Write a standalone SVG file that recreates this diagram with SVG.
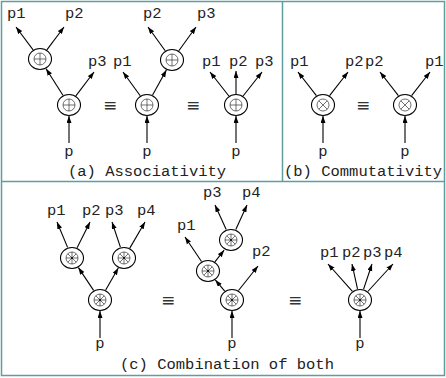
<svg xmlns="http://www.w3.org/2000/svg" xmlns:xlink="http://www.w3.org/1999/xlink" width="446" height="378" viewBox="0 0 446 378">
  <style>
    .frame { fill: none; stroke: #5f9e9e; stroke-width: 1.5; }
    .lbl { font-family: "Liberation Mono", "Courier New", "DejaVu Sans Mono", monospace; font-size: 15.5px; fill: #222; }
    .mid { text-anchor: middle; }
    .eq { font-family: "DejaVu Sans", "Liberation Mono", sans-serif; font-size: 17px; fill: #333; text-anchor: middle; }
    .outer { fill: #fff; stroke: #000; stroke-width: 1.1; }
    .inner { fill: none; stroke: #333; stroke-width: 0.7; }
    .edge { fill: none; stroke: #000; stroke-width: 1.1; marker-end: url(#tip); }
  </style>
  <defs>
    <marker id="tip" markerUnits="userSpaceOnUse" markerWidth="8" markerHeight="6" refX="7" refY="2.5" orient="auto">
      <path d="M0,0 L7,2.5 L0,5 Z" fill="#000"/>
    </marker>
    <!-- node glyphs: oplus, otimes, wheel -->
    <g id="n-plus">
      <ellipse class="outer" rx="11.5" ry="10.5"/>
      <circle class="inner" r="6"/>
      <path class="inner" d="M-6,0 H6 M0,-6 V6"/>
    </g>
    <g id="n-times">
      <ellipse class="outer" rx="11.5" ry="10.5"/>
      <circle class="inner" r="6"/>
      <path class="inner" d="M-4.24,-4.24 L4.24,4.24 M-4.24,4.24 L4.24,-4.24"/>
    </g>
    <g id="n-wheel">
      <ellipse class="outer" rx="11.5" ry="10.5"/>
      <circle class="inner" r="6"/>
      <path class="inner" d="M-6,0 H6 M0,-6 V6 M-4.24,-4.24 L4.24,4.24 M-4.24,4.24 L4.24,-4.24"/>
      <circle r="0.9" fill="#000"/>
    </g>
  </defs>

  <rect width="446" height="378" fill="#fff"/>

  <!-- panel frames -->
  <g id="frames">
    <rect class="frame" x="1.5" y="1.5" width="443" height="374"/>
    <line class="frame" x1="1.5" y1="181.5" x2="444.5" y2="181.5"/>
    <line class="frame" x1="282.5" y1="1.5" x2="282.5" y2="181.5"/>
  </g>

  <!-- connectors -->
  <g id="connectors">
    <!-- (a) left tree -->
    <line class="edge" x1="62.9" y1="95.3" x2="46.1" y2="68.7"/>
    <line class="edge" x1="75.9" y1="95.8" x2="94" y2="72"/>
    <line class="edge" x1="33.1" y1="49.8" x2="16" y2="27"/>
    <line class="edge" x1="46.9" y1="49.8" x2="64" y2="27"/>
    <line class="edge" x1="69" y1="143" x2="69" y2="116"/>
    <!-- (a) middle tree -->
    <line class="edge" x1="152.6" y1="94.9" x2="166.4" y2="70.1"/>
    <line class="edge" x1="140.2" y1="95.7" x2="123" y2="72"/>
    <line class="edge" x1="165.2" y1="50.7" x2="148" y2="27"/>
    <line class="edge" x1="178.8" y1="50.7" x2="196" y2="27"/>
    <line class="edge" x1="147" y1="143" x2="147" y2="116"/>
    <!-- (a) right tree -->
    <line class="edge" x1="228.9" y1="96" x2="210" y2="72"/>
    <line class="edge" x1="236" y1="94" x2="236" y2="71"/>
    <line class="edge" x1="243.1" y1="96" x2="262" y2="72"/>
    <line class="edge" x1="236" y1="143" x2="236" y2="116"/>
    <!-- (b) -->
    <line class="edge" x1="316.4" y1="95.6" x2="298" y2="72"/>
    <line class="edge" x1="329.6" y1="95.6" x2="348" y2="72"/>
    <line class="edge" x1="323" y1="143" x2="323" y2="116"/>
    <line class="edge" x1="398.4" y1="95.6" x2="380" y2="72"/>
    <line class="edge" x1="411.6" y1="95.6" x2="430" y2="72"/>
    <line class="edge" x1="405" y1="143" x2="405" y2="116"/>
    <!-- (c) balanced tree -->
    <line class="edge" x1="93.6" y1="290.4" x2="78.4" y2="267.6"/>
    <line class="edge" x1="105.7" y1="290" x2="118.3" y2="268"/>
    <line class="edge" x1="67.6" y1="247.4" x2="57" y2="222"/>
    <line class="edge" x1="77.1" y1="247.7" x2="90" y2="222"/>
    <line class="edge" x1="120.4" y1="247.1" x2="112" y2="222"/>
    <line class="edge" x1="129.8" y1="248.1" x2="145" y2="222"/>
    <line class="edge" x1="100" y1="338" x2="100" y2="311"/>
    <!-- (c) skewed tree -->
    <line class="edge" x1="224.7" y1="291.1" x2="215.3" y2="279.9"/>
    <line class="edge" x1="238.5" y1="290.5" x2="258" y2="266"/>
    <line class="edge" x1="201.5" y1="261.5" x2="185" y2="237"/>
    <line class="edge" x1="214.9" y1="261.8" x2="224.1" y2="250.2"/>
    <line class="edge" x1="226.2" y1="229.5" x2="215" y2="205"/>
    <line class="edge" x1="235.8" y1="229.5" x2="247" y2="205"/>
    <line class="edge" x1="232" y1="338" x2="232" y2="311"/>
    <!-- (c) flat node -->
    <line class="edge" x1="352.4" y1="291.4" x2="328" y2="264"/>
    <line class="edge" x1="357.5" y1="288.8" x2="352" y2="264"/>
    <line class="edge" x1="363.6" y1="289.1" x2="372" y2="264"/>
    <line class="edge" x1="367.8" y1="291.5" x2="393" y2="264"/>
    <line class="edge" x1="360" y1="338" x2="360" y2="311"/>
  </g>

  <!-- (a) Associativity -->
  <g id="a-left-top"><use xlink:href="#n-plus" x="40" y="59"/></g>
  <g id="a-left-root"><use xlink:href="#n-plus" x="69" y="105"/></g>
  <g id="a-mid-top"><use xlink:href="#n-plus" x="172" y="60"/></g>
  <g id="a-mid-root"><use xlink:href="#n-plus" x="147" y="105"/></g>
  <g id="a-right-root"><use xlink:href="#n-plus" x="236" y="105"/></g>

  <!-- (b) Commutativity -->
  <g id="b-left"><use xlink:href="#n-times" x="323" y="105"/></g>
  <g id="b-right"><use xlink:href="#n-times" x="405" y="105"/></g>

  <!-- (c) Combination of both -->
  <g id="c1-l"><use xlink:href="#n-wheel" x="72" y="258"/></g>
  <g id="c1-r"><use xlink:href="#n-wheel" x="124" y="258"/></g>
  <g id="c1-root"><use xlink:href="#n-wheel" x="100" y="300"/></g>
  <g id="c2-top"><use xlink:href="#n-wheel" x="231" y="240"/></g>
  <g id="c2-mid"><use xlink:href="#n-wheel" x="208" y="271"/></g>
  <g id="c2-root"><use xlink:href="#n-wheel" x="232" y="300"/></g>
  <g id="c3-root"><use xlink:href="#n-wheel" x="360" y="300"/></g>

  <!-- labels -->
  <g id="labels">
    <text class="lbl" x="7" y="18">p1</text>
    <text class="lbl" x="65" y="18">p2</text>
    <text class="lbl" x="88" y="66">p3</text>
    <text class="lbl mid" x="69" y="156">p</text>

    <text class="lbl" x="113" y="66">p1</text>
    <text class="lbl" x="143" y="18">p2</text>
    <text class="lbl" x="197" y="18">p3</text>
    <text class="lbl mid" x="147" y="156">p</text>

    <text class="lbl" x="202" y="66">p1</text>
    <text class="lbl" x="229" y="66">p2</text>
    <text class="lbl" x="255" y="66">p3</text>
    <text class="lbl mid" x="236" y="156">p</text>

    <text class="eq" x="110" y="111">≡</text>
    <text class="eq" x="193" y="111">≡</text>

    <text class="lbl" x="290" y="66">p1</text>
    <text class="lbl" x="345" y="66">p2</text>
    <text class="lbl" x="365" y="66">p2</text>
    <text class="lbl" x="425" y="66">p1</text>
    <text class="lbl mid" x="323" y="156">p</text>
    <text class="lbl mid" x="405" y="156">p</text>
    <text class="eq" x="363" y="111">≡</text>

    <text class="lbl" x="68" y="176">(a) Associativity</text>
    <text class="lbl" x="284" y="176">(b) Commutativity</text>

    <text class="lbl" x="47" y="215">p1</text>
    <text class="lbl" x="82" y="215">p2</text>
    <text class="lbl" x="105" y="215">p3</text>
    <text class="lbl" x="137" y="215">p4</text>
    <text class="lbl mid" x="100" y="348">p</text>

    <text class="lbl" x="203" y="197">p3</text>
    <text class="lbl" x="242" y="197">p4</text>
    <text class="lbl" x="177" y="230">p1</text>
    <text class="lbl" x="252" y="256">p2</text>
    <text class="lbl mid" x="232" y="348">p</text>

    <text class="lbl" x="320" y="257">p1</text>
    <text class="lbl" x="342" y="257">p2</text>
    <text class="lbl" x="363" y="257">p3</text>
    <text class="lbl" x="384" y="257">p4</text>
    <text class="lbl mid" x="360" y="348">p</text>

    <text class="eq" x="168" y="306">≡</text>
    <text class="eq" x="295" y="306">≡</text>

    <text class="lbl" x="120" y="369">(c) Combination of both</text>
  </g>
</svg>
